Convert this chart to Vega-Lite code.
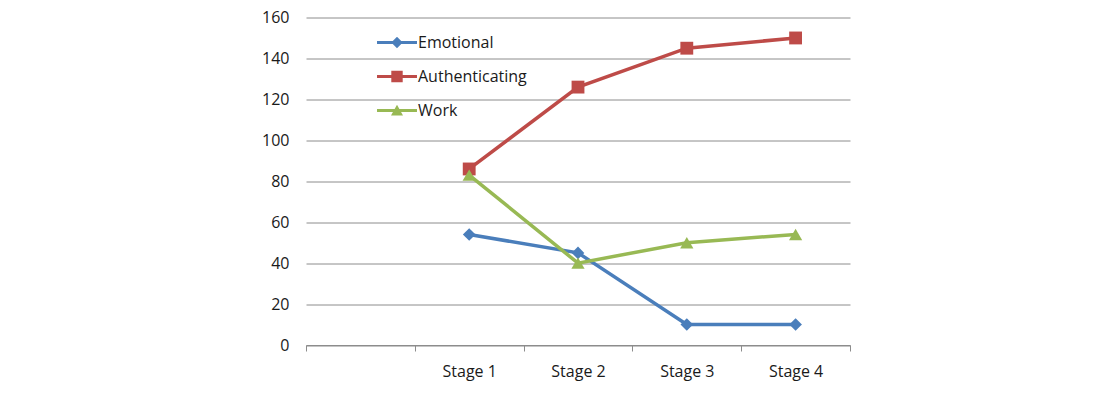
{
  "$schema": "https://vega.github.io/schema/vega-lite/v6.json",
  "width": 544,
  "height": 327.5,
  "autosize": {"type": "none"},
  "padding": {"left": 306, "top": 17.5, "right": 249, "bottom": 67},
  "background": "white",
  "config": {
    "font": "Open Sans",
    "view": {"stroke": null},
    "axis": {"labelFont": "Open Sans", "labelFontSize": 16, "labelColor": "#1a1a1a"},
    "legend": {"labelFont": "Open Sans", "labelFontSize": 16, "labelColor": "#1a1a1a"}
  },
  "data": {
    "values": [
      {"series": "Emotional", "stage": "Stage 1", "value": 54},
      {"series": "Emotional", "stage": "Stage 2", "value": 45},
      {"series": "Emotional", "stage": "Stage 3", "value": 10},
      {"series": "Emotional", "stage": "Stage 4", "value": 10},
      {"series": "Authenticating", "stage": "Stage 1", "value": 86},
      {"series": "Authenticating", "stage": "Stage 2", "value": 126},
      {"series": "Authenticating", "stage": "Stage 3", "value": 145},
      {"series": "Authenticating", "stage": "Stage 4", "value": 150},
      {"series": "Work", "stage": "Stage 1", "value": 83},
      {"series": "Work", "stage": "Stage 2", "value": 40},
      {"series": "Work", "stage": "Stage 3", "value": 50},
      {"series": "Work", "stage": "Stage 4", "value": 54}
    ]
  },
  "encoding": {
    "x": {
      "field": "stage",
      "type": "ordinal",
      "scale": {"type": "band", "domain": ["_", "Stage 1", "Stage 2", "Stage 3", "Stage 4"], "paddingInner": 0, "paddingOuter": 0},
      "axis": {
        "title": null,
        "labelAngle": 0,
        "labelExpr": "datum.value == '_' ? '' : datum.value",
        "tickBand": "extent",
        "domainColor": "#8c8c8c",
        "tickColor": "#8c8c8c",
        "tickSize": 6,
        "labelPadding": 12,
        "grid": false
      }
    },
    "y": {
      "field": "value",
      "type": "quantitative",
      "scale": {"domain": [0, 160], "nice": false},
      "axis": {
        "title": null,
        "values": [0, 20, 40, 60, 80, 100, 120, 140, 160],
        "domain": false,
        "ticks": false,
        "labelPadding": 17,
        "grid": true,
        "gridColor": "#8c8c8c",
        "gridWidth": 1
      }
    },
    "color": {
      "field": "series",
      "type": "nominal",
      "scale": {"domain": ["Emotional", "Authenticating", "Work"], "range": ["#4a7ebb", "#be4b48", "#98b954"]},
      "legend": {
        "title": null,
        "orient": "none",
        "legendX": 83,
        "legendY": 17,
        "padding": 0,
        "symbolSize": 144,
        "symbolStrokeWidth": 0,
        "symbolOpacity": 1,
        "labelOffset": 13,
        "rowPadding": 18,
        "labelFontSize": 16
      }
    }
  },
  "layer": [
    {
      "mark": {"type": "line", "strokeWidth": 3.5},
      "encoding": {"detail": {"field": "series"}}
    },
    {
      "transform": [{"filter": "datum.series == 'Emotional'"}],
      "mark": {"type": "point", "filled": true, "opacity": 1, "shape": "diamond", "size": 160}
    },
    {
      "transform": [{"filter": "datum.series == 'Authenticating'"}],
      "mark": {"type": "point", "filled": true, "opacity": 1, "shape": "square", "size": 165}
    },
    {
      "transform": [{"filter": "datum.series == 'Work'"}],
      "mark": {"type": "point", "filled": true, "opacity": 1, "shape": "triangle-up", "size": 175}
    },
    {
      "transform": [{"filter": "datum.value < 0"}],
      "mark": {"type": "point", "filled": true, "opacity": 1},
      "encoding": {
        "shape": {
          "field": "series",
          "type": "nominal",
          "scale": {
            "domain": ["Emotional", "Authenticating", "Work"],
            "range": [
              "M-3.33,-0.27H3.33V0.27H-3.33Z M0,-0.95L0.95,0L0,0.95L-0.95,0Z",
              "M-3.33,-0.27H3.33V0.27H-3.33Z M-0.95,-0.95H0.95V0.95H-0.95Z",
              "M-3.33,-0.27H3.33V0.27H-3.33Z M-1,0.85L0,-0.95L1,0.85Z"
            ]
          },
          "legend": {
            "title": null,
            "orient": "none",
            "legendX": 83,
            "legendY": 17,
            "padding": 0,
            "symbolSize": 144,
            "symbolStrokeWidth": 0,
            "symbolOpacity": 1,
            "labelOffset": 13,
            "rowPadding": 18,
            "labelFontSize": 16
          }
        }
      }
    }
  ]
}
